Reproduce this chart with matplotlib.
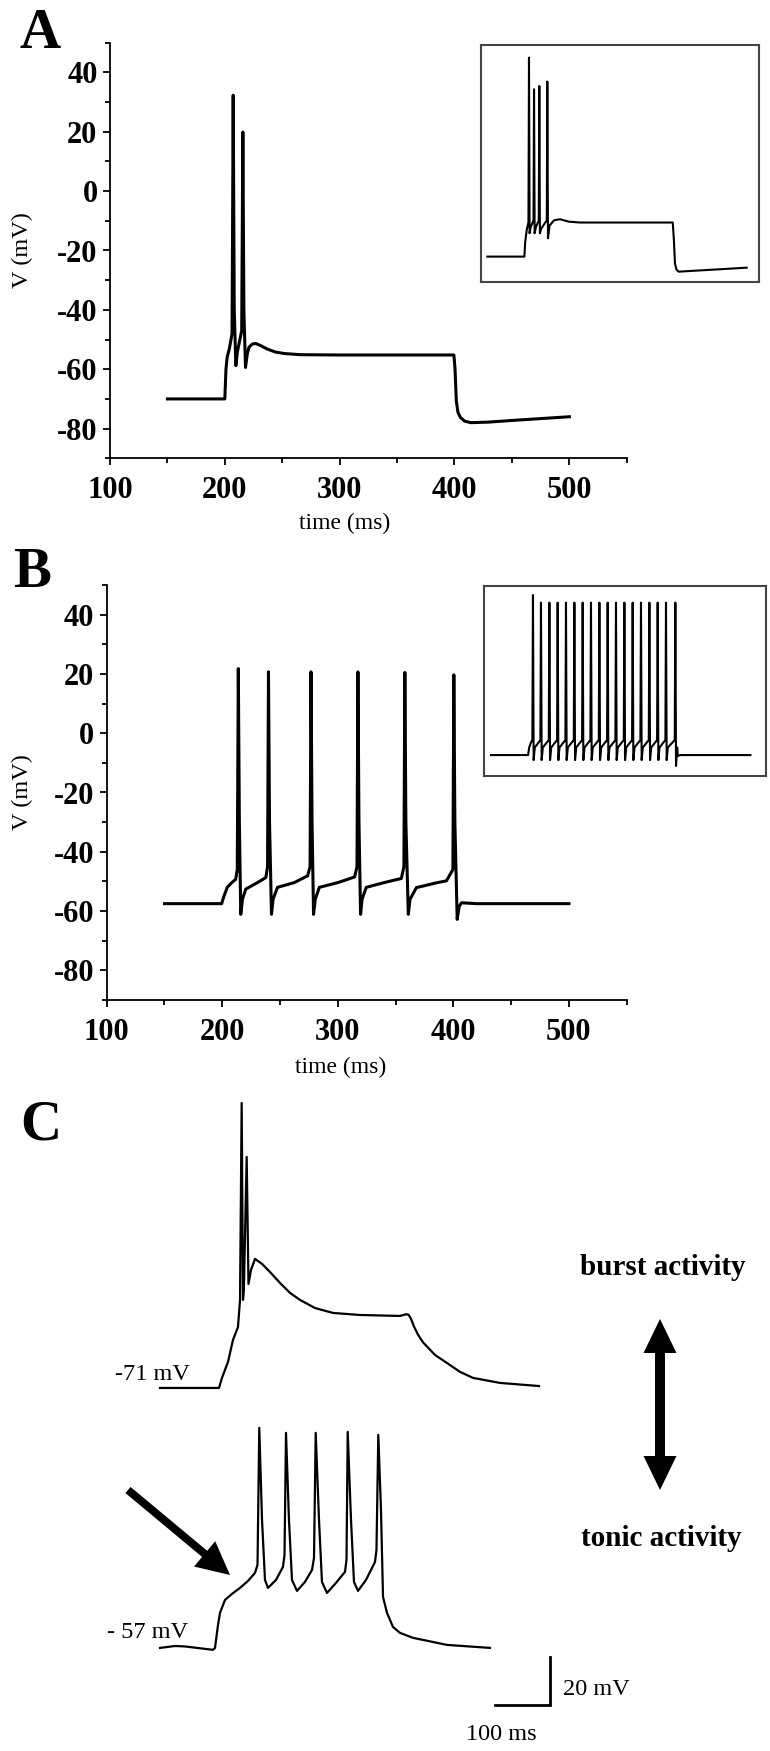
import matplotlib
matplotlib.use("Agg")
from matplotlib import pyplot
from matplotlib.patches import FancyArrow
import matplotlib.ticker as ticker
import numpy

pyplot.rcParams['font.family'] = ['Liberation Serif', 'DejaVu Serif']
pyplot.rcParams['axes.unicode_minus'] = False

W, H = 770, 1751

# ---------------- данные ----------------
# A: основной график (время, мс / потенциал, мВ)
a_t = [150, 200, 200.5, 201, 202, 204, 206.3, 207.3, 208.2, 209.6, 211, 214.7, 215.7, 216.6,
       218, 219.5, 221, 224, 226.8, 231, 237, 244, 251.6, 266, 300, 399.5, 400.5, 401.6,
       403, 405.3, 409, 414.4, 430, 452, 500]
a_v = [-70, -70, -65, -60, -56, -53, -48, 32.3, -40, -58.8, -54, -47, 19.9, -40,
       -59.4, -55, -52.6, -51.5, -51.3, -52, -53.2, -54.2, -54.7, -55.1, -55.2, -55.2, -60, -70.6,
       -74.5, -76.3, -77.5, -78, -77.8, -77.2, -76.0]

# A: вставка
a_in_t = [150, 200, 201, 203, 205.5, 206.2, 207, 208.5, 212.3, 213, 213.8, 215.5, 219.4, 220.1,
          220.9, 222.5, 230.2, 230.9, 231.8, 234, 240, 248, 260, 275, 400, 401.5, 403, 405,
          408, 420, 499.7]
a_in_v = [-70, -70, -62, -55, -50, 45, -56.5, -53, -49, 26.7, -56.5, -53, -49, 28.6,
          -56.5, -54, -49, 31.2, -59.4, -52, -49, -48.4, -49.8, -50.3, -50.3, -60, -73.9, -77.5,
          -78.7, -78.4, -76.4]

# B: основной график
b_t = [150, 199.5, 201, 204.3, 208, 211.6, 213, 213.9, 214.8, 216, 217.5, 220.3, 230.4, 237.7,
       239.2, 240, 240.9, 242.6, 244, 247.8, 262.3, 273.9, 276, 276.8, 277.7, 279, 280.5, 284,
       300, 314.5, 316.6, 317.4, 318.3, 319.7, 321, 324.6, 340, 355, 357.2, 358, 358.9, 361,
       362.5, 368, 385, 394, 399.6, 400.4, 401.3, 403.3, 405, 407, 420, 500]
b_v = [-57.5, -57.5, -55.5, -52, -50.5, -49.3, -46, 21.8, -30, -61.1, -56, -52.6, -50.4, -48.7,
       -45, 20.7, -30, -61.1, -56, -52, -50.4, -48.1, -45, 20.7, -30, -61.1, -56, -52,
       -50.4, -48.5, -45, 20.7, -30, -61.1, -56, -52, -50.4, -49, -45, 20.5, -30, -61.1,
       -56, -52.1, -50.5, -49.8, -46, 19.7, -30, -62.8, -58.5, -57.2, -57.5, -57.5]

# B: вставка (тоническая активность, 18 спайков)
b_in_rest = -57.4
b_in_spikes = [206.6, 217.4, 228.7, 239.9, 251.1, 262.4, 273.6, 284.8, 296.1,
               307.3, 318.5, 329.8, 341.0, 352.2, 363.5, 374.7, 385.9, 398.5]
b_in_peaks = [35.1] + [30.7] * 17
b_in_troughs = [-60.3] * 17 + [-63.7]
b_in_pre = -48.7
b_in_post = -53.0

# C: записи (время от начала записи, мс / мВ)
c_burst_t = [0, 107.3, 112.7, 123.6, 132.7, 141.8, 145.5, 148.5, 150.9, 152.5, 157.6, 160.9,
             165.5, 172.7, 185.5, 200, 218.2, 236.4, 254.5, 281.8, 314.5, 363.6, 436.4, 447,
             452, 456, 462, 469.1, 478.2, 500, 521.8, 545.5, 569.1, 618.2, 689.1]
c_burst_v = [-71, -71, -66.8, -60.2, -51, -45.6, -34.3, 47.75, -34.3, -30, 25.25, -27.7,
             -21.8, -17.25, -19.3, -22.7, -27.25, -31.4, -34.3, -37.7, -39.75, -40.6, -41, -40.3,
             -40.5, -42, -45.5, -48.8, -52, -57.25, -60.6, -64.3, -66.8, -68.9, -70.2]

c_tonic_t = [0, 27.3, 45.5, 96.4, 100, 105.5, 109.1, 118.2, 130.9, 145.5, 160, 172.7, 177.3,
             180.5, 185.5, 190.9, 196.4, 210.9, 223.6, 226.4, 229.1, 234.5, 240, 249.1, 263.6,
             276.4, 280, 283.1, 289.1, 294.5, 303.6, 320, 336.4, 339.1, 341.3, 347.3, 352.7,
             360, 374.5, 390.9, 393.6, 396.9, 401.8, 405.5, 412.7, 423.6, 436.4, 460, 521.8, 600]
c_tonic_v = [-57, -56.2, -56.4, -57.8, -57, -47.4, -42.4, -37, -34.5, -32, -29.1, -25.75, -22.4,
             34.7, -3.7, -28.7, -32, -28.7, -23.25, -18.25, 32.6, -3.7, -28.7, -33.25, -29.5,
             -24.5, -19.5, 32.6, -3.7, -29.5, -34.1, -29.9, -25.3, -20.3, 33, -3.7, -29.5,
             -33.25, -28.7, -21.2, -16.2, 31.75, 0.5, -35.75, -42.4, -48.25, -50.75, -52.8, -55.75, -57]

scale_ms, scale_mv = 100, 20

# ---------------- рисунок ----------------
fig = pyplot.figure(figsize=(W / 100, H / 100), dpi=100)


def box(left, top, right, bottom):
    # прямоугольник в пикселях -> доли фигуры
    return [left / W, 1 - bottom / H, (right - left) / W, (bottom - top) / H]


def main_panel(rect, t, v, xlab_pos, ylab_pos):
    ax = fig.add_axes(rect)
    ax.plot(t, v, color='black', linewidth=2.2, solid_joinstyle='round')
    ax.axis([100, 550, -90, 50])
    ax.spines[['top', 'right']].set_visible(False)
    for s in ('left', 'bottom'):
        ax.spines[s].set_linewidth(1.3)
    ax.xaxis.set_major_locator(ticker.MultipleLocator(100))
    ax.xaxis.set_minor_locator(ticker.MultipleLocator(50))
    ax.yaxis.set_major_locator(ticker.MultipleLocator(20))
    ax.yaxis.set_minor_locator(ticker.MultipleLocator(10))
    ax.tick_params(which='both', direction='out', width=1.3)
    ax.tick_params(which='major', length=5, labelsize=22)
    ax.tick_params(which='minor', length=3.5)
    ax.tick_params(axis='x', pad=8)
    ax.tick_params(axis='y', pad=4)
    for lbl in ax.get_xticklabels() + ax.get_yticklabels():
        lbl.set_fontweight('bold')
    ax.set_xlabel('time (ms)', fontsize=17, va='baseline')
    ax.xaxis.set_label_coords(*xlab_pos)
    ax.set_ylabel('V (mV)', fontsize=17.5, va='center', ha='center')
    ax.yaxis.set_label_coords(*ylab_pos)
    return ax


def inset(rect, t, v, xlim, ylim):
    ax = fig.add_axes(rect)
    ax.plot(t, v, color='black', linewidth=1.5, solid_joinstyle='round')
    ax.set_xlim(xlim)
    ax.set_ylim(ylim)
    ax.set_xticks([])
    ax.set_yticks([])
    for s in ax.spines.values():
        s.set_linewidth(1.5)
        s.set_color('#444444')
    return ax


# панель A
main_panel(box(110, 42.7, 626.7, 458.3), a_t, a_v, (0.455, -0.170), (-0.170, 0.5))
inset(box(481, 45, 759.3, 281.7), a_in_t, a_in_v, (141.5, 516.7), (-84.5, 52.3))

# панель B
main_panel(box(106.7, 585, 626.7, 1000), b_t, b_v, (0.45, -0.176), (-0.162, 0.5))

# вставка B: ломаная собирается из считанных времён/амплитуд спайков
bt, bv = [150, 200, 201.5, 204], [b_in_rest, b_in_rest, -53, -50]
for ts, pk, tr in zip(b_in_spikes, b_in_peaks, b_in_troughs):
    bt += [ts - 0.8, ts, ts + 0.9, ts + 2.5]
    bv += [b_in_pre, pk, tr, b_in_post]
bt += [402, 405, 420, 499.7]
bv += [-58, b_in_rest, b_in_rest, b_in_rest]
inset(box(484.3, 585.7, 765.7, 776), bt, bv, (141, 520.3), (-69.5, 40.5))

# панель C: 0.55 px/мс, 2.4 px/мВ
axc = fig.add_axes(box(0, 1080, 770, 1751))
axc.axis('off')
axc.set_xlim(-290.9, 1109.1)
axc.set_ylim(-222.25, 57.3)
tonic_offset = -122.3
axc.plot(c_burst_t, c_burst_v, color='black', linewidth=1.6, solid_joinstyle='round')
axc.plot(c_tonic_t, numpy.array(c_tonic_v) + tonic_offset, color='black', linewidth=1.6,
         solid_joinstyle='round')
# масштабная линейка
sx, sy = 709.1, -203.1
axc.plot([sx - scale_ms, sx, sx], [sy, sy, sy + scale_mv], color='black', linewidth=2,
         solid_joinstyle='miter')

# надписи и стрелки в пиксельных координатах
ov = fig.add_axes([0, 0, 1, 1])
ov.set_xlim(0, W)
ov.set_ylim(H, 0)
ov.axis('off')

for letter, x, y in [('A', 20, 48), ('B', 13, 587), ('C', 20, 1139)]:
    ov.text(x, y, letter, fontsize=41, fontweight='bold', ha='left', va='baseline')

ov.text(115, 1380, '-71 mV', fontsize=17.5, ha='left', va='baseline')
ov.text(107, 1638, '- 57 mV', fontsize=17.5, ha='left', va='baseline')
ov.text(663, 1275, 'burst activity', fontsize=21, fontweight='bold', ha='center', va='baseline')
ov.text(661, 1546, 'tonic activity', fontsize=21, fontweight='bold', ha='center', va='baseline')
ov.text(563, 1695, '20 mV', fontsize=17.5, ha='left', va='baseline')
ov.text(501, 1740, '100 ms', fontsize=17.5, ha='center', va='baseline')

# двусторонняя стрелка
ov.add_patch(FancyArrow(660, 1405, 0, -86, width=10, head_width=33, head_length=34,
                        length_includes_head=True, color='black', lw=0))
ov.add_patch(FancyArrow(660, 1404, 0, 86, width=10, head_width=33, head_length=34,
                        length_includes_head=True, color='black', lw=0))
# наклонная стрелка
ov.add_patch(FancyArrow(128, 1490, 102, 85, width=8, head_width=33, head_length=33,
                        length_includes_head=True, color='black', lw=0))

fig.savefig('out.png', dpi=100)
